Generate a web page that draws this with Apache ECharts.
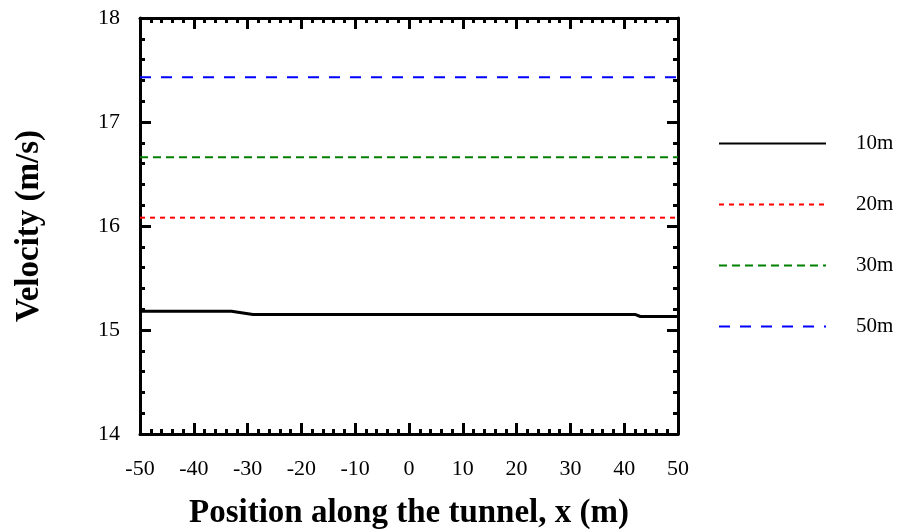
<!DOCTYPE html>
<html>
<head>
<meta charset="utf-8">
<script src="https://cdn.jsdelivr.net/npm/echarts@6/dist/echarts.min.js"></script>
<style>
  html, body { margin: 0; padding: 0; background: #fff; }
  #chart { width: 903px; height: 531px; }
</style>
</head>
<body>
<div id="chart"></div>
<script>
// values
var seriesNames = ['10m', '20m', '30m', '50m'];
var pos10 = [-50, -33, -29, 42, 43, 50];
var vel10 = [15.18, 15.18, 15.15, 15.15, 15.13, 15.13];
var pos20 = [-50, 50];
var vel20 = [16.08, 16.08];
var pos30 = [-50, 50];
var vel30 = [16.66, 16.66];
var pos50 = [-50, 50];
var vel50 = [17.43, 17.43];

var xRange = [-50, 50];
var yRange = [14, 18];

function pairs(xs, ys) {
    var out = [];
    for (var i = 0; i < xs.length; i++) out.push([xs[i], ys[i]]);
    return out;
}

var font = 'Liberation Serif';

function axisBase(extra) {
    var a = {
        type: 'value',
        axisLine: { show: true, onZero: false, lineStyle: { color: '#000', width: 3 } },
        axisTick: { show: true, inside: true, length: 11, lineStyle: { color: '#000', width: 3 } },
        minorTick: { show: true, splitNumber: 5, length: 5, lineStyle: { color: '#000', width: 3 } },
        splitLine: { show: false },
        axisLabel: { show: false }
    };
    for (var k in extra) a[k] = extra[k];
    return a;
}

var chart = echarts.init(document.getElementById('chart'));
var option = {
    animation: false,
    backgroundColor: '#fff',
    grid: { left: 140, right: 225, top: 18, bottom: 97, containLabel: false, outerBoundsMode: 'none' },
    legend: {
        orient: 'vertical',
        left: 718,
        top: 133,
        padding: 0,
        itemWidth: 107,
        itemHeight: 14,
        itemGap: 40,
        data: seriesNames,
        itemStyle: { opacity: 0, borderWidth: 0 },
        textStyle: { fontFamily: font, fontSize: 21, color: '#000', padding: [0, 0, 0, 25] }
    },
    xAxis: [
        axisBase({
            position: 'bottom', min: xRange[0], max: xRange[1], interval: 10,
            axisLabel: { show: true, margin: 24, fontFamily: font, fontSize: 22, color: '#000' },
            name: 'Position along the tunnel, x (m)',
            nameLocation: 'middle', nameGap: 63,
            nameTextStyle: { fontFamily: font, fontSize: 33, fontWeight: 'bold', color: '#000' }
        }),
        axisBase({ position: 'top', min: xRange[0], max: xRange[1], interval: 10 })
    ],
    yAxis: [
        axisBase({
            position: 'left', min: yRange[0], max: yRange[1], interval: 1,
            axisLabel: { show: true, margin: 20, fontFamily: font, fontSize: 22, color: '#000' },
            name: 'Velocity (m/s)',
            nameLocation: 'middle', nameGap: 94,
            nameTextStyle: { fontFamily: font, fontSize: 33, fontWeight: 'bold', color: '#000' }
        }),
        axisBase({ position: 'right', min: yRange[0], max: yRange[1], interval: 1 })
    ],
    series: [
        { name: '10m', type: 'line', symbol: 'none', data: pairs(pos10, vel10),
          lineStyle: { color: '#000', width: 3, type: 'solid' }, itemStyle: { color: '#000' } },
        { name: '20m', type: 'line', symbol: 'none', data: pairs(pos20, vel20),
          lineStyle: { color: '#ff0000', width: 2, type: [5, 5] }, itemStyle: { color: '#ff0000' } },
        { name: '30m', type: 'line', symbol: 'none', data: pairs(pos30, vel30),
          lineStyle: { color: '#008000', width: 2, type: [8, 5] }, itemStyle: { color: '#008000' } },
        { name: '50m', type: 'line', symbol: 'none', data: pairs(pos50, vel50),
          lineStyle: { color: '#0000ff', width: 2, type: [11, 10] }, itemStyle: { color: '#0000ff' } }
    ]
};
chart.setOption(option);
</script>
</body>
</html>
